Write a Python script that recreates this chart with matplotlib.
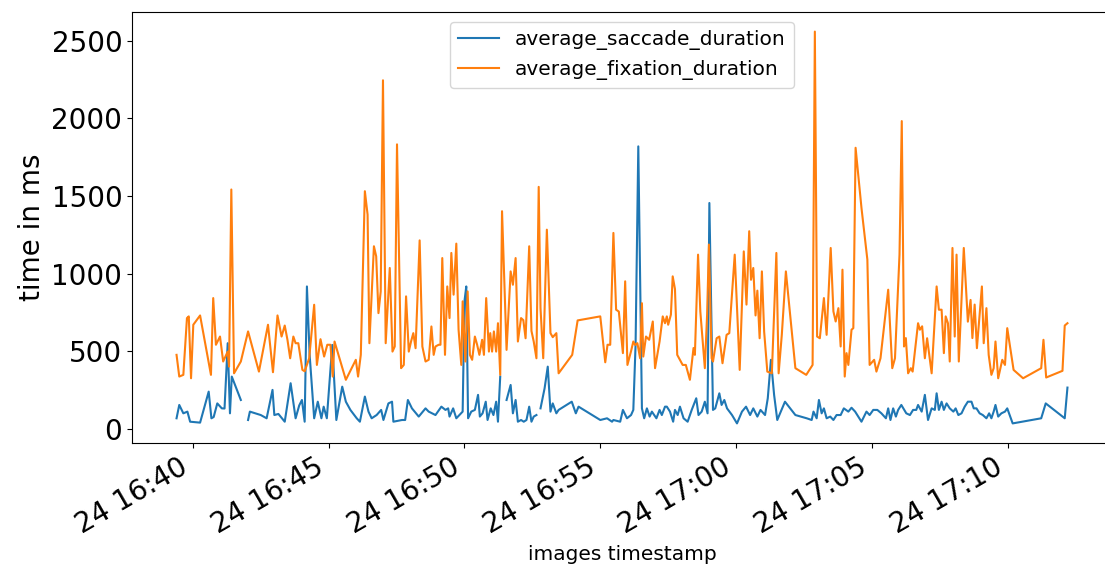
import numpy as np
import pandas as pd
import matplotlib
matplotlib.use('Agg')
import matplotlib.pyplot as plt
import matplotlib.dates as mdates

# seconds after 16:40:00 and durations in ms
fix_sec = [-36, -30, -21, -13, -9, -4, 1, 16, 40, 45,
           51, 60, 67, 77, 80, 85, 91, 106, 122, 146,
           166, 177, 187, 196, 203, 209, 215, 222, 227, 233,
           242, 247, 257, 268, 274, 282, 290, 297, 304, 309,
           313, 338, 360, 365, 371, 380, 386, 390, 400, 405,
           410, 415, 420, 426, 435, 441, 446, 451, 460, 466,
           471, 477, 482, 487, 492, 501, 507, 514, 521, 527,
           532, 536, 543, 547, 551, 557, 562, 567, 571, 576,
           582, 587, 593, 596, 602, 607, 612, 617, 623, 628,
           633, 639, 643, 648, 654, 657, 661, 665, 670, 674,
           679, 683, 693, 702, 707, 713, 718, 725, 730, 735,
           743, 748, 753, 759, 764, 768, 774, 782, 790, 795,
           803, 808, 838, 850, 900, 911, 916, 922, 929, 935,
           941, 950, 955, 960, 968, 973, 977, 982, 988, 992,
           995, 1001, 1008, 1016, 1021, 1031, 1038, 1043, 1047, 1050,
           1056, 1060, 1065, 1070, 1082, 1089, 1098, 1106, 1109, 1116,
           1121, 1131, 1136, 1140, 1146, 1149, 1157, 1163, 1170, 1179,
           1185, 1197, 1208, 1217, 1223, 1229, 1233, 1238, 1243, 1247,
           1252, 1257, 1262, 1269, 1279, 1289, 1294, 1301, 1310, 1331,
           1355, 1369, 1374, 1379, 1385, 1394, 1400, 1409, 1415, 1420,
           1426, 1431, 1435, 1440, 1444, 1448, 1455, 1459, 1464, 1477,
           1490, 1495, 1505, 1510, 1519, 1536, 1545, 1551, 1561, 1566,
           1571, 1575, 1580, 1586, 1590, 1602, 1606, 1611, 1617, 1622,
           1632, 1643, 1648, 1654, 1659, 1663, 1668, 1672, 1678, 1683,
           1687, 1692, 1703, 1712, 1718, 1722, 1727, 1732, 1738, 1743,
           1747, 1753, 1758, 1764, 1769, 1773, 1779, 1784, 1788, 1794,
           1799, 1813, 1834, 1874, 1879, 1885, 1921, 1926, 1932]
fix_ms = [476, 336, 347, 713, 724, 325, 670, 730, 347, 842,
          541, 594, 433, 497, 400, 1542, 357, 433, 627, 368,
          670, 364, 730, 594, 665, 573, 454, 594, 551, 551,
          379, 370, 454, 799, 411, 577, 465, 541, 541, 336,
          562, 315, 444, 336, 476, 1531, 1380, 551, 1176, 1111,
          745, 885, 2246, 551, 1036, 497, 530, 1833, 390, 411,
          853, 497, 562, 616, 519, 1214, 530, 433, 444, 659,
          476, 530, 541, 541, 1100, 476, 917, 713, 1133, 864,
          1193, 638, 411, 821, 433, 885, 476, 444, 594, 541,
          476, 573, 476, 842, 497, 616, 497, 627, 497, 680,
          347, 1402, 508, 1014, 928, 1100, 562, 713, 700, 583,
          1176, 630, 562, 454, 1559, 777, 454, 1283, 616, 590,
          616, 357, 476, 698, 724, 428, 541, 541, 1262, 767,
          755, 487, 950, 411, 500, 562, 540, 551, 454, 809,
          465, 594, 573, 691, 390, 562, 724, 680, 724, 670,
          735, 982, 900, 476, 411, 411, 315, 520, 476, 1122,
          756, 390, 735, 1187, 454, 433, 583, 594, 422, 605,
          616, 1122, 379, 1143, 800, 1273, 960, 1036, 730, 890,
          583, 1014, 626, 368, 357, 1133, 357, 605, 1014, 390,
          347, 411, 2560, 594, 583, 842, 605, 1165, 756, 691,
          777, 530, 1025, 336, 487, 411, 638, 648, 1811, 1423,
          1090, 411, 444, 368, 454, 896, 390, 454, 1122, 1983,
          530, 584, 357, 390, 368, 680, 638, 660, 454, 583,
          357, 917, 767, 767, 487, 724, 680, 433, 1165, 594,
          1122, 433, 1165, 690, 830, 584, 800, 519, 734, 917,
          551, 777, 476, 347, 390, 562, 325, 390, 444, 411,
          648, 379, 325, 390, 573, 330, 373, 665, 680]

# None marks the breaks in the saccade line
sac_sec = [-36, -30, -21, -12, -6, 16, 35, 41, 46, 54,
           64, 70, 77, 82, 86, 106, 112, 122, 126, 150,
           163, 176, 180, 189, 203, 216, 227, 235, 241, 247,
           252, 258, 268, 276, 284, 289, 296, 308, 312, 317,
           330, 338, 348, 362, 369, 380, 388, 395, 406, 416,
           421, 432, 440, 443, 462, 469, 475, 484, 499, 514,
           521, 536, 549, 558, 564, 567, 575, 582, 596, 600,
           604, 608, 615, 623, 630, 634, 640, 647, 651, 658,
           664, 670, 674, 679, 686, 693, 702, 707, 713, 718,
           725, 731, 737, 743, 748, 753, 759, 763, 768, 777,
           784, 790, 795, 803, 808, 837, 846, 852, 900, 915,
           926, 929, 944, 950, 959, 968, 973, 978, 984,
           992, 997, 1003, 1009, 1014, 1024, 1031, 1036, 1043, 1047,
           1054, 1061, 1065, 1071, 1076, 1084, 1093, 1102, 1112, 1117,
           1124, 1131, 1137, 1141, 1149, 1154, 1157, 1163, 1168, 1174,
           1180, 1191, 1202, 1213, 1222, 1231, 1238, 1247, 1254, 1264,
           1270, 1277, 1284, 1291, 1308, 1331, 1356, 1367, 1371, 1378,
           1383, 1389, 1394, 1400, 1408, 1415, 1422, 1431, 1438, 1448,
           1455, 1463, 1470, 1477, 1488, 1495, 1503, 1512, 1521, 1531,
           1536, 1541, 1547, 1553, 1558, 1565, 1576, 1584, 1591, 1598,
           1602, 1610, 1617, 1624, 1632, 1639, 1643, 1648, 1654, 1659,
           1665, 1672, 1680, 1685, 1691, 1698, 1705, 1712, 1720, 1725,
           1731, 1738, 1745, 1753, 1759, 1764, 1769, 1773, 1779, 1786,
           1794, 1799, 1811, 1874, 1884, 1926, 1932]
sac_ms = [67, 153, 99, 110, 45, 39, 239, 67, 75, 163,
          131, 130, 551, 99, 336, 185, None, 56, 110, 88,
          67, 250, 88, 95, 45, 293, 67, 150, 185, 45,
          917, 476, 67, 174, 67, 142, 67, 540, 325, 56,
          271, 174, 121, 67, 45, 207, 110, 67, 88, 121,
          56, 163, 174, 45, 56, 56, 185, 131, 78, 131,
          110, 88, 142, 121, 131, 78, 131, 67, 110, 821,
          917, 67, 110, 121, 218, 78, 99, 174, 56, 131,
          88, 174, 45, 336, None, 185, 282, 99, 185, 45,
          56, 45, 56, 142, 45, 78, 88, None, 131, 260,
          400, 110, 163, 99, 121, 174, 99, 142, 56, 67,
          45, 56, 45, 121, 67, 88, 121, 541, 1820,
          131, 67, 131, 78, 110, 67, 121, 88, 142, 142,
          110, 45, 121, 88, 142, 67, 45, 121, 196, 88,
          110, 174, 99, 1455, 121, 131, 163, 228, 153, 185,
          131, 88, 34, 110, 142, 88, 131, 78, 121, 88,
          196, 444, 218, 56, 174, 88, 67, 56, 110, 67,
          185, 99, 131, 67, 78, 56, 88, 88, 131, 110,
          135, 110, 78, 45, 110, 88, 121, 121, 99, 67,
          131, 56, 131, 78, 121, 153, 99, 88, 121, 121,
          153, 110, 218, 56, 131, 121, 228, 121, 174, 121,
          163, 131, 110, 131, 88, 99, 142, 174, 174, 131,
          131, 99, 88, 67, 99, 67, 110, 153, 78, 99,
          110, 131, 34, 67, 163, 67, 265]

start = pd.Timestamp('2021-05-24 16:40:00')
fix_t = start + pd.to_timedelta(fix_sec, unit='s')
sac_t = start + pd.to_timedelta(sac_sec, unit='s')
sac_y = np.array([np.nan if v is None else v for v in sac_ms], dtype=float)

fig = plt.figure(figsize=(11.05, 5.69), dpi=100)
ax = fig.add_axes([132 / 1105, 126 / 569, 980 / 1105, 431 / 569])

ax.plot(sac_t, sac_y, color='tab:blue', label='average_saccade_duration')
ax.plot(fix_t, fix_ms, color='tab:orange', label='average_fixation_duration')

ax.xaxis.set_major_locator(mdates.MinuteLocator(byminute=range(0, 60, 5)))
ax.xaxis.set_major_formatter(mdates.DateFormatter('%d %H:%M'))
for lbl in ax.get_xticklabels():
    lbl.set_rotation(30)
    lbl.set_ha('right')
ax.tick_params(labelsize=20)
ax.set_ylabel('time in ms', fontsize=20)
ax.set_xlabel('images timestamp', fontsize=14.5)
ax.legend(loc='upper center', fontsize=14.5)

fig.savefig('out.png', dpi=100)
